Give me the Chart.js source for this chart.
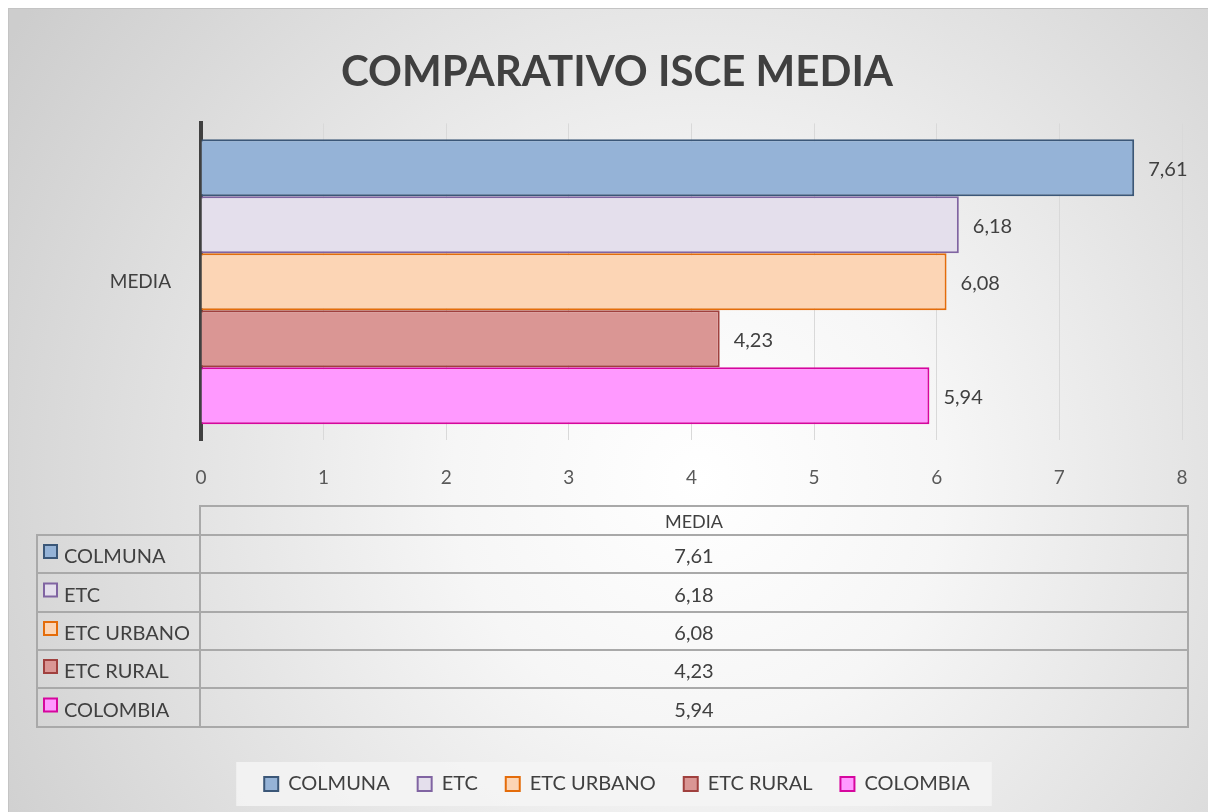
<!DOCTYPE html>
<html>
<head>
<meta charset="utf-8">
<script src="https://cdn.jsdelivr.net/npm/chart.js@4.4.1/dist/chart.umd.min.js"></script>
<style>
  html, body { margin: 0; padding: 0; background: #fff; }
  #wrap { width: 1208px; height: 812px; }
</style>
</head>
<body>
<div id="wrap"><canvas id="grafico" width="1208" height="812"></canvas></div>
<script>
// datos del grafico
const categorias = ["MEDIA"];
const series = ["COLMUNA", "ETC", "ETC URBANO", "ETC RURAL", "COLOMBIA"];
const valores = [7.61, 6.18, 6.08, 4.23, 5.94];
const ejeX = { min: 0, max: 8, paso: 1 };

const rellenos = ["#95b3d7", "#e4dfec", "#fcd5b5", "#da9694", "#ff99ff"];
const bordes = ["#3b5778", "#8064a2", "#e46c0a", "#a0403e", "#d6069e"];

const fuente = "Lato, 'Open Sans', sans-serif";
const textoColor = "#404040";

const formato = (v) => v.toFixed(2).replace(".", ",");

// fondo con degradado
const fondo = {
  id: "fondo",
  beforeDraw(chart) {
    const ctx = chart.ctx;
    ctx.save();
    ctx.fillStyle = "#ffffff";
    ctx.fillRect(0, 0, chart.width, chart.height);
    const g = ctx.createRadialGradient(700, 480, 0, 700, 480, 820);
    g.addColorStop(0, "#ffffff");
    g.addColorStop(0.3, "#f6f6f6");
    g.addColorStop(1, "#cdcdcd");
    ctx.fillStyle = g;
    ctx.fillRect(8, 8, chart.width - 8, chart.height - 8);
    ctx.strokeStyle = "#c4c4c4";
    ctx.lineWidth = 1;
    ctx.strokeRect(8.5, 8.5, chart.width, chart.height);

    // caja de la leyenda
    const cajas = chart.legend.legendHitBoxes;
    if (cajas && cajas.length) {
      const izq = Math.min(...cajas.map(c => c.left)) - 28;
      const der = Math.max(...cajas.map(c => c.left + c.width)) + 22;
      const cy = cajas[0].top + cajas[0].height / 2;
      ctx.fillStyle = "rgba(245,245,245,0.85)";
      ctx.fillRect(izq, cy - 22, der - izq, 44);
    }
    ctx.restore();
  }
};

// etiquetas de valor al final de cada barra
const etiquetas = {
  id: "etiquetas",
  afterDatasetsDraw(chart) {
    const ctx = chart.ctx;
    ctx.save();
    ctx.font = "20px " + fuente;
    ctx.fillStyle = textoColor;
    ctx.textAlign = "left";
    ctx.textBaseline = "middle";
    chart.data.datasets.forEach((ds, i) => {
      const barra = chart.getDatasetMeta(i).data[0];
      ctx.fillText(formato(ds.data[0]), barra.x + 14, barra.y + 2);
    });
    ctx.restore();
  }
};

// tabla de datos bajo el eje
const tabla = {
  id: "tabla",
  afterDraw(chart) {
    const ctx = chart.ctx;
    const area = chart.chartArea;
    const x0 = 37, x1 = area.left - 1, x2 = 1188;
    const filas = [506, 535, 573, 612, 650, 688, 727];
    ctx.save();
    ctx.strokeStyle = "#a9a9a9";
    ctx.lineWidth = 2;
    // encabezado
    ctx.strokeRect(x1, filas[0], x2 - x1, filas[1] - filas[0]);
    for (let i = 1; i < filas.length - 1; i++) {
      ctx.strokeRect(x0, filas[i], x1 - x0, filas[i + 1] - filas[i]);
      ctx.strokeRect(x1, filas[i], x2 - x1, filas[i + 1] - filas[i]);
    }
    ctx.fillStyle = textoColor;
    ctx.textBaseline = "middle";
    ctx.textAlign = "center";
    ctx.font = "18px " + fuente;
    const cx = (x1 + x2) / 2;
    ctx.fillText(categorias[0], cx, (filas[0] + filas[1]) / 2 + 2);
    chart.data.datasets.forEach((ds, i) => {
      const cy = (filas[i + 1] + filas[i + 2]) / 2 + 3;
      ctx.textAlign = "center";
      ctx.fillStyle = textoColor;
      ctx.font = "20px " + fuente;
      ctx.fillText(formato(ds.data[0]), cx, cy);
      // cuadro de color
      ctx.fillStyle = ds.backgroundColor;
      ctx.fillRect(44, cy - 12, 13, 13);
      ctx.strokeStyle = ds.borderColor;
      ctx.lineWidth = 2;
      ctx.strokeRect(44, cy - 12, 13, 13);
      ctx.fillStyle = textoColor;
      ctx.textAlign = "left";
      ctx.fillText(ds.label, 64, cy);
    });
    ctx.restore();
  }
};

new Chart(document.getElementById("grafico"), {
  type: "bar",
  data: {
    labels: categorias,
    datasets: series.map((nombre, i) => ({
      label: nombre,
      data: [valores[i]],
      backgroundColor: rellenos[i],
      borderColor: bordes[i],
      borderWidth: 2,
      categoryPercentage: 0.9,
      barPercentage: 1
    }))
  },
  options: {
    responsive: false,
    animation: false,
    indexAxis: "y",
    layout: { padding: { left: 52, right: 26, top: 0, bottom: 8 } },
    scales: {
      x: {
        min: ejeX.min,
        max: ejeX.max,
        ticks: {
          stepSize: ejeX.paso,
          color: "#595959",
          font: { family: fuente, size: 19 },
          padding: 8
        },
        grid: { color: "#d9d9d9", drawTicks: true, tickLength: 18, tickColor: "rgba(0,0,0,0)" },
        border: { display: false },
        afterFit(scale) { scale.height = 306; }
      },
      y: {
        ticks: {
          color: textoColor,
          font: { family: fuente, size: 19 },
          padding: 22
        },
        grid: { display: false },
        border: { color: "#404040", width: 4 },
        afterFit(scale) { scale.width = 149; }
      }
    },
    plugins: {
      title: {
        display: true,
        text: "COMPARATIVO ISCE MEDIA",
        color: textoColor,
        font: { family: fuente, size: 42, weight: "bold" },
        padding: { top: 47, bottom: 26 }
      },
      legend: {
        position: "bottom",
        labels: {
          color: textoColor,
          font: { family: fuente, size: 20 },
          boxWidth: 14,
          boxHeight: 14,
          padding: 28
        }
      },
      tooltip: { enabled: false }
    }
  },
  plugins: [fondo, etiquetas, tabla]
});
</script>
</body>
</html>
